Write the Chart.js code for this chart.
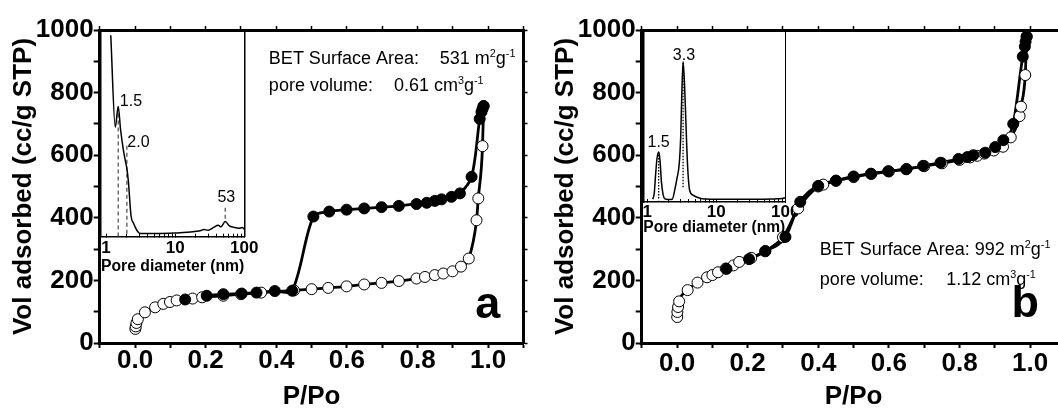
<!DOCTYPE html>
<html>
<head>
<meta charset="utf-8">
<title>Nitrogen isotherms</title>
<script src="https://cdn.jsdelivr.net/npm/chart.js@4.4.1/dist/chart.umd.min.js"></script>
<style>
  html, body { margin: 0; padding: 0; background: #fff; }
  #wrap { position: relative; width: 1058px; height: 412px; overflow: hidden; background: #fff; }
  #wrap canvas { position: absolute; top: 0; }
</style>
</head>
<body>
<div id="wrap">
  <canvas id="insetA" width="220" height="300" style="left:60px; z-index:1"></canvas>
  <canvas id="insetB" width="220" height="260" style="left:600px; z-index:1"></canvas>
  <canvas id="mainA" width="541" height="420" style="left:0px; z-index:2"></canvas>
  <canvas id="mainB" width="560" height="420" style="left:542px; z-index:2"></canvas>
</div>
<script>
// ---------- panel a : isotherm ----------
const adsA_P = [0.001, 0.002, 0.004, 0.008, 0.028, 0.057, 0.080, 0.099, 0.118, 0.163, 0.190, 0.250, 0.300, 0.357, 0.450, 0.500, 0.547, 0.599, 0.649, 0.698, 0.747, 0.797, 0.821, 0.849, 0.873, 0.899, 0.923, 0.945, 0.967, 0.972, 0.984, 0.987];
const adsA_V = [45, 53, 64, 76, 98, 114, 125, 131, 136, 142, 146, 151, 156, 161, 168, 172, 176, 181, 187, 192, 198, 206, 211, 217, 222, 229, 244, 270, 392, 462, 629, 757];
const desA_P = [0.142, 0.203, 0.250, 0.302, 0.344, 0.396, 0.445, 0.505, 0.550, 0.599, 0.649, 0.698, 0.747, 0.797, 0.826, 0.849, 0.868, 0.896, 0.920, 0.953, 0.976, 0.981, 0.984, 0.987];
const desA_V = [139, 151, 156, 158, 161, 166, 167, 404, 420, 426, 430, 434, 438, 444, 448, 454, 459, 467, 478, 531, 716, 738, 748, 757];

// ---------- panel b : isotherm ----------
const adsB_P = [0.0005, 0.001, 0.003, 0.006, 0.030, 0.058, 0.085, 0.100, 0.116, 0.138, 0.160, 0.176, 0.210, 0.250, 0.300, 0.343, 0.400, 0.414, 0.450, 0.500, 0.550, 0.600, 0.650, 0.700, 0.750, 0.800, 0.830, 0.850, 0.870, 0.897, 0.923, 0.945, 0.970, 0.974, 0.986, 0.990];
const adsB_V = [83, 99, 115, 133, 169, 193, 210, 217, 226, 238, 248, 259, 272, 294, 338, 430, 500, 506, 518, 530, 540, 548, 556, 565, 574, 585, 593, 598, 605, 615, 627, 657, 725, 755, 856, 979];
const desB_P = [0.140, 0.204, 0.250, 0.307, 0.349, 0.400, 0.450, 0.500, 0.549, 0.598, 0.649, 0.697, 0.746, 0.797, 0.822, 0.839, 0.873, 0.901, 0.924, 0.952, 0.979, 0.985, 0.987, 0.990];
const desB_V = [237, 268, 293, 339, 451, 502, 519, 532, 541, 549, 555, 566, 576, 588, 594, 600, 608, 626, 648, 700, 915, 947, 963, 979];

// ---------- insets : pore size distribution (arbitrary units) ----------
const psdA_D = [1.17, 1.36, 1.5, 1.62, 1.78, 1.92, 2.0, 2.1, 2.3, 2.5, 2.8, 3.1, 4, 6, 10, 15, 20, 23, 26, 30, 36, 42, 46, 53, 61, 70, 83, 93, 100];
const psdA_Y = [0.975, 0.53, 0.63, 0.52, 0.42, 0.36, 0.33, 0.27, 0.10, 0.065, 0.03, 0.016, 0.016, 0.016, 0.018, 0.021, 0.026, 0.029, 0.035, 0.031, 0.045, 0.055, 0.048, 0.073, 0.052, 0.046, 0.041, 0.044, 0.036];
const psdB_D = [1.2, 1.26, 1.32, 1.38, 1.46, 1.53, 1.6, 1.7, 1.8, 2.0, 2.3, 2.5, 2.7, 2.9, 3.05, 3.15, 3.3, 3.45, 3.6, 3.75, 3.9, 4.1, 4.6, 5.5, 7, 10, 20, 40, 70, 90, 100];
const psdB_Y = [0.016, 0.05, 0.16, 0.25, 0.29, 0.24, 0.12, 0.04, 0.018, 0.015, 0.016, 0.07, 0.14, 0.22, 0.38, 0.6, 0.815, 0.7, 0.5, 0.3, 0.16, 0.07, 0.04, 0.025, 0.017, 0.016, 0.016, 0.016, 0.018, 0.02, 0.025];

// marked peaks in the insets
const peakA_D = [1.5, 2.0, 53];
const peakA_Top = [0.63, 0.44, 0.14];
const peakA_Bottom = [0, 0, 0.073];
const peakA_Label = ['1.5', '2.0', '53'];
const peakB_D = [1.46, 3.3];
const peakB_Top = [0.29, 0.81];
const peakB_Bottom = [0.01, 0.08];
const peakB_Label = ['1.5', '3.3'];

// ---------- ticks ----------
const mainXTicks = [-0.1, 0, 0.1, 0.2, 0.3, 0.4, 0.5, 0.6, 0.7, 0.8, 0.9, 1.0, 1.1];
const mainXLabels = ['', '0.0', '', '0.2', '', '0.4', '', '0.6', '', '0.8', '', '1.0', ''];
const mainYTicks = [0, 100, 200, 300, 400, 500, 600, 700, 800, 900, 1000];
const mainYLabels = ['0', '', '200', '', '400', '', '600', '', '800', '', '1000'];
const psdXTicks = [1, 2, 3, 4, 5, 6, 7, 8, 9, 10, 20, 30, 40, 50, 60, 70, 80, 90, 100];
const psdXLabels = ['1', '', '', '', '', '', '', '', '', '10', '', '', '', '', '', '', '', '', '100'];

const FONT = "'Liberation Sans', Arial, Helvetica, sans-serif";
Chart.defaults.font.family = FONT;
Chart.defaults.color = '#000';

function pts(xs, ys) {
    return xs.map((x, i) => ({ x: x, y: ys[i] }));
}

// text runs with superscripts, drawn at a data position
function drawRuns(ctx, x, y, runs, size, bold, align) {
    const w = bold ? 'bold ' : '';
    let total = 0;
    runs.forEach(r => {
        ctx.font = w + (r[1] ? size * 0.6 : size) + 'px ' + FONT;
        total += ctx.measureText(r[0]).width;
    });
    let cx = align === 'center' ? x - total / 2 : x;
    runs.forEach(r => {
        ctx.font = w + (r[1] ? size * 0.6 : size) + 'px ' + FONT;
        ctx.fillText(r[0], cx, r[1] ? y - size * 0.4 : y);
        cx += ctx.measureText(r[0]).width;
    });
}

function notesPlugin(notes) {
    return {
        id: 'notes',
        afterDraw(chart) {
            const ctx = chart.ctx;
            const xs = chart.scales.x, ys = chart.scales.y;
            ctx.save();
            ctx.fillStyle = '#000';
            ctx.textBaseline = 'alphabetic';
            ctx.textAlign = 'left';
            notes.forEach(n => {
                drawRuns(ctx, xs.getPixelForValue(n.x), ys.getPixelForValue(n.y),
                    n.runs, n.size || 18, n.bold, n.align);
            });
            ctx.restore();
        }
    };
}

// plot frame of both main panels, in canvas pixels
const MAIN = { left: 99.7, top: 30, right: 523.5, bottom: 343, xAxisH: 69.6, canvasH: 420 };

function mainChart(id, canvasW, ads, des, notes, xTickPad, desCurve) {
    const lineDs = (data, curve) => Object.assign({
        data: data, showLine: true, pointRadius: 0, borderColor: '#000', borderWidth: 2.8,
        cubicInterpolationMode: 'monotone', order: 3
    }, curve || {});
    return new Chart(document.getElementById(id), {
        type: 'scatter',
        data: {
            datasets: [
                lineDs(ads),
                lineDs(des, desCurve),
                { data: ads, pointRadius: 5.5, pointBackgroundColor: '#fff', pointBorderColor: '#000', pointBorderWidth: 1, order: 2 },
                { data: des, pointRadius: 5.5, pointBackgroundColor: '#000', pointBorderColor: '#000', pointBorderWidth: 1, order: 1 }
            ]
        },
        options: {
            responsive: false,
            animation: false,
            events: [],
            layout: {
                autoPadding: false,
                padding: { left: 0, top: MAIN.top, right: canvasW - MAIN.right, bottom: MAIN.canvasH - MAIN.bottom - MAIN.xAxisH }
            },
            plugins: { legend: { display: false }, tooltip: { enabled: false } },
            scales: {
                x: {
                    type: 'linear', position: 'bottom', min: -0.1, max: 1.1,
                    afterBuildTicks: s => { s.ticks = mainXTicks.map(v => ({ value: v })); },
                    afterFit: s => { s.height = MAIN.xAxisH; },
                    ticks: { callback: (v, i) => mainXLabels[i], autoSkip: false, maxRotation: 0, padding: xTickPad, font: { size: 26, weight: 'bold' } },
                    grid: { drawOnChartArea: false, tickLength: 5, tickWidth: 2, tickColor: '#000' },
                    border: { display: true, width: 3, color: '#000' },
                    title: { display: true, text: 'P/Po', font: { size: 26, weight: 'bold' }, padding: { top: 0, bottom: 0 } }
                },
                y: {
                    type: 'linear', position: 'left', min: 0, max: 1000,
                    afterBuildTicks: s => { s.ticks = mainYTicks.map(v => ({ value: v })); },
                    afterFit: s => { s.width = MAIN.left; },
                    ticks: { callback: (v, i) => mainYLabels[i], autoSkip: false, padding: 0, font: { size: 26, weight: 'bold' } },
                    grid: { drawOnChartArea: false, tickLength: 6, tickWidth: 2, tickColor: '#000' },
                    border: { display: true, width: 3, color: '#000' },
                    title: { display: true, text: 'Vol adsorbed (cc/g STP)', font: { size: 26, weight: 'bold' }, padding: { top: 8, bottom: 0 } }
                },
                x2: {
                    type: 'linear', position: 'top', min: -0.1, max: 1.1,
                    afterBuildTicks: s => { s.ticks = mainXTicks.map(v => ({ value: v })); },
                    afterFit: s => { s.height = 0; },
                    ticks: { display: false },
                    grid: { drawOnChartArea: false, tickLength: 4, tickWidth: 1.5, tickColor: '#000' },
                    border: { display: true, width: 3, color: '#000' }
                },
                y2: {
                    type: 'linear', position: 'right', min: 0, max: 1000,
                    afterBuildTicks: s => { s.ticks = mainYTicks.map(v => ({ value: v })); },
                    afterFit: s => { s.width = 0; },
                    ticks: { display: false },
                    grid: { drawOnChartArea: false, tickLength: 4, tickWidth: 1.5, tickColor: '#000' },
                    border: { display: true, width: 3, color: '#000' }
                }
            }
        },
        plugins: [notesPlugin(notes)]
    });
}

function peakLabelPlugin(labels) {
    return {
        id: 'peakLabels',
        afterDatasetsDraw(chart) {
            const ctx = chart.ctx;
            ctx.save();
            ctx.fillStyle = '#000';
            ctx.font = '16px ' + FONT;
            ctx.textBaseline = 'alphabetic';
            labels.forEach(l => {
                ctx.textAlign = l.align;
                ctx.fillText(l.text, chart.scales.x.getPixelForValue(l.x), chart.scales.y.getPixelForValue(l.y));
            });
            ctx.restore();
        }
    };
}

// box = canvas placement on the page, area = inset frame on the page
function insetChart(id, box, area, spec) {
    const L = area.left - box.left;
    const R = area.right - box.left;
    const datasets = [{
        data: pts(spec.d, spec.y), showLine: true, pointRadius: 0, borderColor: '#000',
        borderWidth: 1.5, cubicInterpolationMode: 'monotone'
    }];
    spec.peakD.forEach((d, i) => {
        datasets.push({
            data: [{ x: d, y: spec.peakTop[i] }, { x: d, y: spec.peakBottom[i] }],
            showLine: true, pointRadius: 0, borderColor: spec.dashColor, borderWidth: 1.3, borderDash: spec.dash
        });
    });
    return new Chart(document.getElementById(id), {
        type: 'scatter',
        data: { datasets: datasets },
        options: {
            responsive: false,
            animation: false,
            events: [],
            layout: {
                autoPadding: false,
                padding: { left: 0, top: area.top, right: box.width - R, bottom: box.height - area.bottom - spec.xAxisH }
            },
            plugins: { legend: { display: false }, tooltip: { enabled: false } },
            scales: {
                x: {
                    type: 'logarithmic', position: 'bottom', min: spec.min, max: 100,
                    afterBuildTicks: s => { s.ticks = psdXTicks.map(v => ({ value: v })); },
                    afterFit: s => { s.height = spec.xAxisH; },
                    ticks: { callback: (v, i) => psdXLabels[i], autoSkip: false, maxRotation: 0, padding: spec.tickPad, font: { size: 17, weight: 'bold' } },
                    grid: { drawOnChartArea: false, tickLength: -3, tickWidth: 1, tickColor: '#000' },
                    border: { display: true, width: 1.5, color: '#000' },
                    title: { display: true, text: 'Pore diameter (nm)', font: { size: 16, weight: 'bold' }, padding: { top: 0, bottom: 0 } }
                },
                y: {
                    type: 'linear', position: 'left', min: 0, max: 1,
                    afterFit: s => { s.width = L; },
                    ticks: { display: false },
                    grid: { display: false },
                    border: { display: true, width: 1.5, color: '#000' }
                },
                y2: {
                    type: 'linear', position: 'right', min: 0, max: 1,
                    afterFit: s => { s.width = 0; },
                    ticks: { display: false },
                    grid: { display: false },
                    border: { display: true, width: spec.rightWidth, color: '#000', dash: spec.rightDash }
                }
            }
        },
        plugins: [peakLabelPlugin(spec.labels)]
    });
}

insetChart('insetA', { left: 60, width: 220, height: 300 }, { left: 101, top: 30, right: 244.3, bottom: 236.7 }, {
    d: psdA_D, y: psdA_Y, min: 0.845, xAxisH: 39.6, tickPad: 4.4,
    peakD: peakA_D, peakTop: peakA_Top, peakBottom: peakA_Bottom,
    dash: [4, 3], dashColor: '#555',
    rightWidth: 1.5, rightDash: [],
    labels: [
        { x: 1.58, y: 0.63, text: peakA_Label[0], align: 'left' },
        { x: 2.03, y: 0.434, text: peakA_Label[1], align: 'left' },
        { x: 55, y: 0.168, text: peakA_Label[2], align: 'center' }
    ]
});

insetChart('insetB', { left: 600, width: 220, height: 260 }, { left: 643.3, top: 30, right: 785.3, bottom: 202 }, {
    d: psdB_D, y: psdB_Y, min: 0.875, xAxisH: 35.6, tickPad: 3.3,
    peakD: peakB_D, peakTop: peakB_Top, peakBottom: peakB_Bottom,
    dash: [1.5, 1.5], dashColor: '#000',
    rightWidth: 1, rightDash: [1.5, 2],
    labels: [
        { x: 1.46, y: 0.32, text: peakB_Label[0], align: 'center' },
        { x: 3.4, y: 0.826, text: peakB_Label[1], align: 'center' }
    ]
});

mainChart('mainA', 541, pts(adsA_P, adsA_V), pts(desA_P, desA_V), [
    { x: 0.379, y: 891, runs: [['BET Surface Area:']] },
    { x: 0.863, y: 891, runs: [['531 m'], ['2', true], ['g'], ['-1', true]] },
    { x: 0.379, y: 805, runs: [['pore volume:']] },
    { x: 0.733, y: 805, runs: [['0.61 cm'], ['3', true], ['g'], ['-1', true]] },
    { x: 0.999, y: 80, runs: [['a']], size: 45, bold: true, align: 'center' }
], -2.6, { cubicInterpolationMode: 'default', tension: 0.3 });

mainChart('mainB', 560, pts(adsB_P, adsB_V), pts(desB_P, desB_V), [
    { x: 0.404, y: 280, runs: [['BET Surface Area: 992 m'], ['2', true], ['g'], ['-1', true]] },
    { x: 0.404, y: 185, runs: [['pore volume:']] },
    { x: 0.762, y: 185, runs: [['1.12 cm'], ['3', true], ['g'], ['-1', true]] },
    { x: 0.986, y: 83, runs: [['b']], size: 45, bold: true, align: 'center' }
], 0.4);
</script>
</body>
</html>
